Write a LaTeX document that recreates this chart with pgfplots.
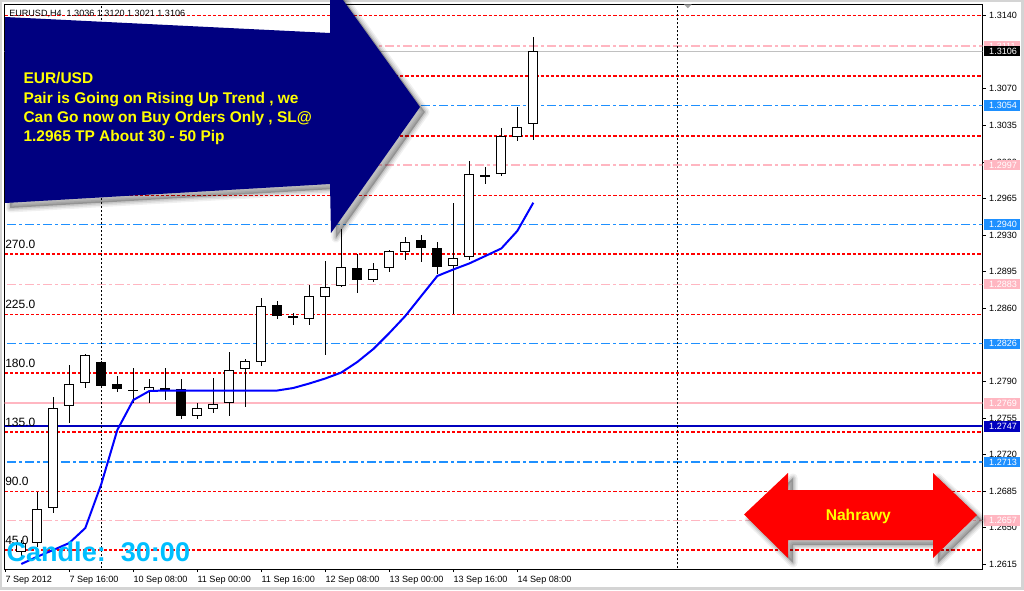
\documentclass[border=0pt]{standalone}
\usepackage{pgfplots}
\pgfplotsset{compat=1.18}
\usepackage{pgfplotstable}
\usepackage{fontspec}
\setmainfont{Liberation Sans}

\definecolor{mtnavy}{RGB}{0,0,128}
\definecolor{mtred}{RGB}{255,0,0}
\definecolor{dodger}{RGB}{30,144,255}
\definecolor{lpink}{RGB}{255,182,193}
\definecolor{lvlblue}{RGB}{0,0,190}
\definecolor{bidgrey}{RGB}{192,192,192}
\definecolor{skyb}{RGB}{0,191,255}
\definecolor{mtyellow}{RGB}{255,255,0}
\definecolor{framegrey}{RGB}{212,212,212}
\definecolor{pureblue}{RGB}{0,0,255}

% EURUSD H4 candles: bar index, open, high, low, close
\pgfplotstableread{
i  o       h       l       c
1  1.26272 1.26382 1.26229 1.26359
2  1.26351 1.26845 1.26315 1.26676
3  1.26686 1.27748 1.26638 1.27649
4  1.27665 1.28057 1.27499 1.27873
5  1.27882 1.28160 1.27834 1.28150
6  1.28083 1.28095 1.27851 1.27859
7  1.27875 1.27955 1.27796 1.27825
8  1.27820 1.28026 1.27691 1.27816
9  1.27818 1.27923 1.27691 1.27847
10 1.27834 1.28026 1.27722 1.27811
11 1.27825 1.27923 1.27543 1.27572
12 1.27566 1.27694 1.27543 1.27643
13 1.27633 1.27933 1.27601 1.27681
14 1.27691 1.28179 1.27572 1.28006
15 1.28016 1.28115 1.27658 1.28093
16 1.28083 1.28698 1.28050 1.28619
17 1.28629 1.28670 1.28500 1.28529
18 1.28526 1.28552 1.28443 1.28512
19 1.28500 1.28820 1.28443 1.28715
20 1.28705 1.29052 1.28156 1.28801
21 1.28810 1.29356 1.28800 1.28992
22 1.28985 1.29117 1.28749 1.28874
23 1.28868 1.29030 1.28854 1.28973
24 1.28983 1.29161 1.28950 1.29145
25 1.29136 1.29282 1.29059 1.29231
26 1.29253 1.29298 1.29046 1.29180
27 1.29174 1.29234 1.28925 1.28992
28 1.29002 1.29610 1.28548 1.29078
29 1.29088 1.30009 1.29062 1.29882
30 1.29869 1.29952 1.29787 1.29866
31 1.29882 1.30325 1.29869 1.30246
32 1.30236 1.30529 1.30198 1.30338
33 1.30360 1.31200 1.30210 1.31060
}\candles

% moving average
\pgfplotstableread{
i  v
1  1.26153
2  1.26223
3  1.26287
4  1.26354
5  1.26497
6  1.26918
7  1.27435
8  1.27722
9  1.27808
10 1.27813
11 1.27813
12 1.27813
13 1.27813
14 1.27813
15 1.27813
16 1.27813
17 1.27813
18 1.27837
19 1.27880
20 1.27928
21 1.27985
22 1.28086
23 1.28210
24 1.28363
25 1.28526
26 1.28718
27 1.28909
28 1.28971
29 1.29029
30 1.29100
31 1.29172
32 1.29340
33 1.29610
}\ema

\newcommand\tk{\fontsize{6.8}{8}\selectfont}
\pgfplotsset{nomark/.style={only marks, mark=*, mark size=0pt, mark options={draw=none, fill=none}, forget plot}}

\begin{document}
\begin{tikzpicture}
\useasboundingbox (0,0) rectangle (768pt,442.5pt);
\clip (0,0) rectangle (768pt,442.5pt);
\fill[white] (0,0) rectangle (768pt,442.5pt);

\begin{axis}[
  at={(3.525pt,15.75pt)}, anchor=south west,
  scale only axis, width=733.2pt, height=423.4pt,
  xmin=-0.0375, xmax=61.06,
  ymin=1.26105, ymax=1.31507,
  clip mode=individual,
  axis line style={black, line width=0.75pt},
  tick align=outside,
  major tick length=2.4pt,
  tick style={black, line width=0.6pt},
  xtick pos=bottom, ytick pos=right,
  yticklabel pos=right,
  xtick={0,4,...,32},
  xticklabels={7 Sep 2012, 7 Sep 16:00, 10 Sep 08:00, 11 Sep 00:00, 11 Sep 16:00, 12 Sep 08:00, 13 Sep 00:00, 13 Sep 16:00, 14 Sep 08:00},
  ytick={1.2615,1.2650,1.2685,1.2720,1.2755,1.2790,1.2860,1.2895,1.2930,1.2965,1.3000,1.3035,1.3070,1.3140},
  scaled y ticks=false,
  /pgf/number format/assume math mode=true,
  yticklabel style={/pgf/number format/.cd, fixed, fixed zerofill, precision=4, /tikz/.cd, anchor=west, inner sep=0pt, xshift=2.6pt},
  xticklabel style={anchor=north west, inner sep=0pt, yshift=-2.5pt},
  ticklabel style={font=\tk},
]

% grid levels
\pgfplotsinvokeforeach{1.31400,1.30823,1.30249,1.29681,1.29120,1.28542,1.27981,1.27416,1.26848,1.26287}{
  \addplot[mtred, line width=1pt, dash pattern=on 2.4pt off 1.5pt, forget plot] coordinates {(-1,#1) (62,#1)};
}
\pgfplotsinvokeforeach{1.3054,1.2940,1.2826,1.2713}{
  \addplot[dodger, line width=1pt, dash pattern=on 6.75pt off 2.25pt on 2.25pt off 2.25pt, forget plot] coordinates {(-1,#1) (62,#1)};
}
\pgfplotsinvokeforeach{1.3111,1.2997,1.2883,1.2657}{
  \addplot[lpink, line width=1pt, dash pattern=on 6.75pt off 2.25pt on 2.25pt off 2.25pt, forget plot] coordinates {(-1,#1) (62,#1)};
}
\addplot[lpink, line width=1.5pt, forget plot] coordinates {(-1,1.2769) (62,1.2769)};
\addplot[lvlblue, line width=1.6pt, forget plot] coordinates {(-1,1.2747) (62,1.2747)};
\addplot[bidgrey, line width=0.75pt, forget plot] coordinates {(-1,1.3106) (62,1.3106)};

% weekly separators
\addplot[black, line width=0.75pt, dash pattern=on 1.5pt off 1.5pt, forget plot] coordinates {(6,1.25) (6,1.32)};
\addplot[black, line width=0.75pt, dash pattern=on 1.5pt off 1.5pt, forget plot] coordinates {(42,1.25) (42,1.32)};

% candle wicks
\addplot[nomark,
  error bars/.cd, y dir=both, y explicit, error mark=none,
  error bar style={draw=black, solid, line width=0.75pt}]
  table[x=i, y expr={(\thisrow{h}+\thisrow{l})/2}, y error expr={(\thisrow{h}-\thisrow{l})/2}] {\candles};
% candle bodies (outline / bearish fill)
\addplot[nomark,
  error bars/.cd, y dir=both, y explicit, error mark=none,
  error bar style={draw=black, solid, line width=7.5pt}]
  table[x=i, y expr={(\thisrow{o}+\thisrow{c})/2}, y error expr={max(abs(\thisrow{c}-\thisrow{o})/2,0.00005)}] {\candles};
% bullish bodies
\addplot[nomark,
  restrict expr to domain={\thisrow{c}-\thisrow{o}}{0.0002:1},
  error bars/.cd, y dir=both, y explicit, error mark=none,
  error bar style={draw=white, solid, line width=6pt}]
  table[x=i, y expr={(\thisrow{o}+\thisrow{c})/2}, y error expr={(\thisrow{c}-\thisrow{o})/2-0.0000957}] {\candles};

% moving average
\addplot[pureblue, line width=1.5pt, forget plot] table[x=i, y=v] {\ema};

% price tags
\pgfplotsinvokeforeach{3111,2997,2883,2769,2657,3054,2940,2826,2713,2747,3106}{
  \coordinate (t#1) at (axis cs:61.06,1.#1);
}
\pgfplotsinvokeforeach{3111,2997,2883,2769,2657}{
  \fill[lpink] ([xshift=1.5pt,yshift=-3.9pt]t#1) rectangle ([xshift=28pt,yshift=3.9pt]t#1);
  \node[anchor=west, inner sep=0pt, text=white, font=\tk] at ([xshift=5pt]t#1) {1.#1};
}
\end{axis}

\foreach \n/\col in {3054/dodger,2940/dodger,2826/dodger,2713/dodger,2747/lvlblue,3106/black}{
  \fill[\col] ([xshift=1.5pt,yshift=-3.9pt]t\n) rectangle ([xshift=28pt,yshift=3.9pt]t\n);
  \node[anchor=west, inner sep=0pt, text=white, font=\tk] at ([xshift=5pt]t\n) {1.\n};
}

\begin{scope}[shift={(0pt,442.5pt)}, x=0.75pt, y=-0.75pt]
  % window frame
  \draw[framegrey, line width=1.8pt] (1,1) rectangle (1022.5,588.5);
  \fill[gray!70] (684,4.3) -- (691.7,4.3) -- (687.8,8.3) -- cycle;
  \node[anchor=base west, inner sep=0pt, font=\tk] at (9,16.3) {EURUSD,H4\ \ 1.3036 1.3120 1.3021 1.3106};

  % angle labels
  \node[anchor=base west, inner sep=0pt, font=\fontsize{9}{10}\selectfont] at (5,248.3) {270.0};
  \node[anchor=base west, inner sep=0pt, font=\fontsize{9}{10}\selectfont] at (5,308.3) {225.0};
  \node[anchor=base west, inner sep=0pt, font=\fontsize{9}{10}\selectfont] at (5,367.3) {180.0};
  \node[anchor=base west, inner sep=0pt, font=\fontsize{9}{10}\selectfont] at (5,426.3) {135.0};
  \node[anchor=base west, inner sep=0pt, font=\fontsize{9}{10}\selectfont] at (5,485.3) {90.0};
  \node[anchor=base west, inner sep=0pt, font=\fontsize{9}{10}\selectfont] at (5,544.3) {45.0};

  % navy arrow with soft shadow
  \begin{scope}[shift={(5,5)}]
    \foreach \w/\op in {9/0.06,6/0.08,3/0.1}{
      \draw[black, line width=\w*0.75pt, line join=round, opacity=\op]
        (5,17) -- (330,33) -- (330,-18) -- (420,107) -- (331,233) -- (330,184) -- (5,203) -- cycle;
    }
    \fill[black, opacity=0.25]
      (5,17) -- (330,33) -- (330,-18) -- (420,107) -- (331,233) -- (330,184) -- (5,203) -- cycle;
  \end{scope}
  \fill[mtnavy] (5,17) -- (330,33) -- (330,-18) -- (420,107) -- (331,233) -- (330,184) -- (5,203) -- cycle;
  \begin{scope}[every node/.style={anchor=base west, inner sep=0pt, text=mtyellow, font=\bfseries\fontsize{11.6}{14}\selectfont}]
    \node at (23.3,84) {EUR/USD};
    \node at (23.3,103.3) {Pair is Going on Rising Up Trend , we};
    \node at (23.3,122.5) {Can Go now on Buy Orders Only , SL@};
    \node at (23.3,141.7) {1.2965 TP About 30 - 50 Pip};
  \end{scope}

  % red double arrow with soft shadow
  \begin{scope}[shift={(5,5)}]
    \foreach \w/\op in {9/0.06,6/0.08,3/0.1}{
      \draw[black, line width=\w*0.75pt, line join=round, opacity=\op]
        (744,514.5) -- (788,473) -- (788,490) -- (933,490) -- (933,473) -- (977,515) -- (933,558) -- (933,540) -- (788,540) -- (788,558) -- cycle;
    }
    \fill[black, opacity=0.25]
      (744,514.5) -- (788,473) -- (788,490) -- (933,490) -- (933,473) -- (977,515) -- (933,558) -- (933,540) -- (788,540) -- (788,558) -- cycle;
  \end{scope}
  \fill[mtred] (744,514.5) -- (788,473) -- (788,490) -- (933,490) -- (933,473) -- (977,515) -- (933,558) -- (933,540) -- (788,540) -- (788,558) -- cycle;
  \node[anchor=base, inner sep=0pt, text=mtyellow, font=\bfseries\fontsize{11.7}{14}\selectfont] at (858.3,520) {Nahrawy};

  % candle timer
  \node[anchor=base west, inner sep=0pt, text=skyb, font=\bfseries\fontsize{20.3}{24}\selectfont] at (6.3,561.7) {Candle:\ \ 30:00};
\end{scope}
\end{tikzpicture}
\end{document}
